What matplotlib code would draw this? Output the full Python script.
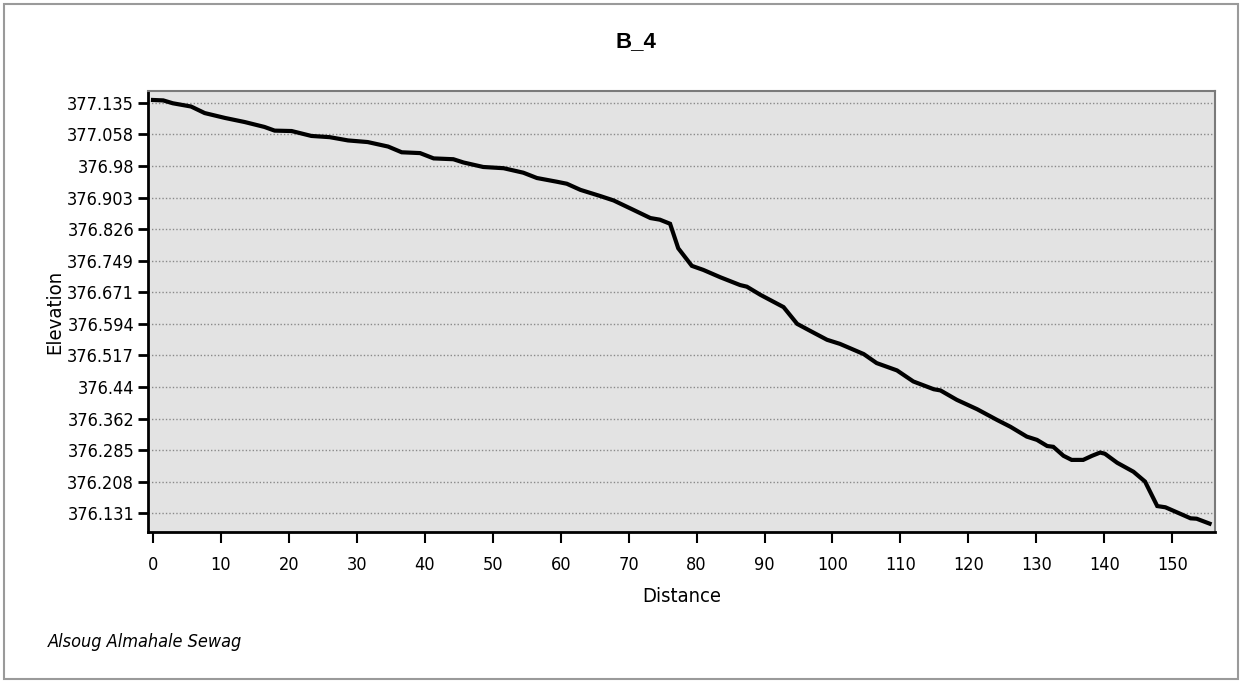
import matplotlib.pyplot as plt
from matplotlib.patches import Rectangle

# profile
dist = [0, 1.5, 2.9, 5.6, 7.6, 10.6, 13.5, 16.4, 17.9, 20.4, 23.3, 26.0, 28.7,
        31.6, 34.6, 36.6, 39.3, 41.3, 44.2, 45.7, 48.6, 51.6, 54.5, 56.5, 59.4,
        60.9, 62.9, 65.8, 67.8, 70.7, 73.2, 74.6, 76.1, 77.3, 79.3, 81.0, 83.5,
        86.4, 87.4, 89.4, 92.8, 94.8, 96.7, 99.2, 101.1, 104.6, 106.5, 109.5,
        111.9, 114.9, 115.9, 118.3, 121.3, 124.2, 126.2, 128.6, 130.1, 131.6,
        132.5, 134.0, 135.2, 136.9, 138.2, 139.4, 140.1, 141.9, 144.3, 146.0,
        147.8, 149.0, 151.2, 152.7, 153.6, 155.5]
elev = [377.142, 377.141, 377.134, 377.126, 377.110, 377.098, 377.088, 377.076,
        377.067, 377.066, 377.054, 377.051, 377.043, 377.039, 377.028, 377.014,
        377.012, 376.999, 376.997, 376.989, 376.978, 376.975, 376.964, 376.951,
        376.942, 376.937, 376.922, 376.907, 376.896, 376.873, 376.853, 376.849,
        376.839, 376.779, 376.736, 376.726, 376.708, 376.689, 376.685, 376.665,
        376.635, 376.594, 376.577, 376.555, 376.545, 376.520, 376.498, 376.480,
        376.453, 376.434, 376.431, 376.408, 376.385, 376.359, 376.342, 376.318,
        376.310, 376.295, 376.293, 376.271, 376.261, 376.261, 376.271, 376.279,
        376.276, 376.254, 376.232, 376.208, 376.148, 376.145, 376.129, 376.118,
        376.117, 376.105]

yticks = [376.131, 376.208, 376.285, 376.362, 376.44, 376.517, 376.594,
          376.671, 376.749, 376.826, 376.903, 376.98, 377.058, 377.135]
xticks = list(range(0, 151, 10))

plt.rcParams['font.family'] = ['DejaVu Sans']
plt.rcParams['font.stretch'] = 'condensed'

fig = plt.figure(figsize=(12.44, 6.83), dpi=100)
ax = fig.add_axes([148/1244, 1 - 532/683, (1215-148)/1244, (532-91)/683])
ax.set_facecolor('#e3e3e3')

ax.plot(dist, elev, color='black', lw=3, solid_joinstyle='miter')

ax.set_xlim(-0.74, 156.3)
ax.set_ylim(376.0845, 377.164)
ax.set_yticks(yticks)
ax.set_yticklabels([f"{v:g}" for v in yticks])
ax.set_xticks(xticks)
ax.yaxis.grid(True, color='#8a8a8a', lw=1, linestyle=(0, (1, 1.5)))
ax.tick_params(axis='y', length=7, width=2, labelsize=13, pad=3)
ax.tick_params(axis='x', length=8, width=1.5, labelsize=13, pad=9)

for s in ['left', 'bottom']:
    ax.spines[s].set_color('black')
    ax.spines[s].set_linewidth(2)
for s in ['top', 'right']:
    ax.spines[s].set_color('#7a7a7a')
    ax.spines[s].set_linewidth(1.5)

ax.set_xlabel('Distance', fontsize=14.5)
ax.xaxis.set_label_coords(0.5, -(596 - 532) / 441, transform=ax.transAxes)
ax.xaxis.label.set_va('center')
ax.set_ylabel('Elevation', fontsize=14.5)
ax.yaxis.set_label_coords(-(148 - 55) / 1067, 0.5)
ax.yaxis.label.set_va('center')
fig.text(636/1244, 1 - 42/683, 'B_4', ha='center', va='center',
         fontsize=16, fontweight='bold', family='Liberation Sans', stretch='normal')
fig.text(48/1244, 1 - 642/683, 'Alsoug Almahale Sewag', ha='left', va='center',
         fontsize=13, style='italic')

fig.patches.append(Rectangle((4/1244, 4/683), 1234/1244, 675/683,
                             transform=fig.transFigure, fill=False,
                             edgecolor='#9a9a9a', lw=1.5))

fig.savefig('out.png', dpi=100)
